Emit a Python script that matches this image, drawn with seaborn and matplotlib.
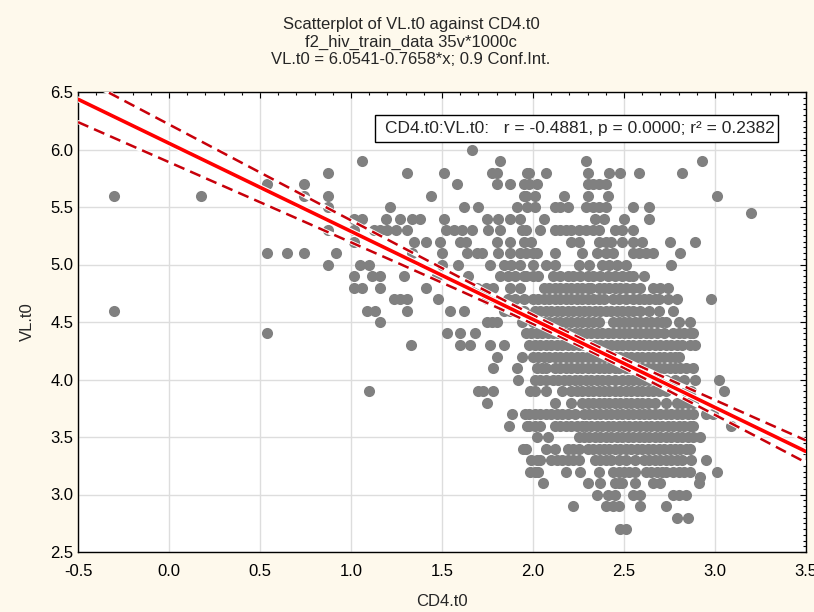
import numpy as np
import pandas as pd
import matplotlib
matplotlib.use("Agg")
import matplotlib.pyplot as plt
import matplotlib.patheffects as pe
from matplotlib.patches import Rectangle
import seaborn as sns

# ---- data: CD4.t0 values grouped by VL.t0 level ----
upper_rows = {
    6.0: [1.665],
    5.9: [1.06, 1.82, 2.29, 2.93],
    5.8: [0.875, 1.31, 1.51, 1.775, 1.80, 1.965, 1.98, 2.07, 2.30, 2.42, 2.48, 2.58, 2.82],
    5.7: [0.54, 0.74, 1.58, 1.80, 1.875, 1.95, 1.98, 2.02, 2.30, 2.33, 2.36, 2.40],
    5.6: [-0.30, 0.175, 0.74, 0.875, 1.44, 1.95, 1.96, 2.01, 2.17, 2.30, 2.41, 3.01],
    5.5: [0.875, 1.215, 1.62, 1.70, 1.91, 1.965, 2.01, 2.12, 2.15, 2.19, 2.29, 2.33,
          2.36, 2.40, 2.55, 2.64],
    5.45: [3.20],
    5.4: [1.015, 1.06, 1.19, 1.27, 1.335, 1.38, 1.51, 1.75, 1.81, 1.875, 1.93, 2.06,
          2.34, 2.39, 2.50, 2.64],
    5.3: [0.875, 1.015, 1.125, 1.16, 1.20, 1.245, 1.31, 1.52, 1.565, 1.61, 1.665, 1.755,
          1.82, 1.94, 1.96, 2.04, 2.12, 2.15, 2.18, 2.21, 2.25, 2.29, 2.33, 2.36, 2.45,
          2.49, 2.55],
    5.2: [1.015, 1.345, 1.41, 1.49, 1.60, 1.63, 1.80, 1.875, 1.95, 1.99, 2.21, 2.25,
          2.36, 2.40, 2.43, 2.49, 2.55, 2.60, 2.75, 2.89],
    5.1: [0.54, 0.65, 0.74, 0.92, 1.335, 1.50, 1.64, 1.69, 1.72, 1.81, 1.875, 1.93,
          1.96, 2.00, 2.02, 2.12, 2.27, 2.35, 2.40, 2.44, 2.55, 2.58, 2.62, 2.66, 2.81],
    5.0: [0.875, 1.05, 1.10, 1.50, 1.59, 1.765, 1.84, 1.88, 1.93, 2.00, 2.07, 2.12,
          2.25, 2.31, 2.38, 2.42, 2.46, 2.51, 2.76],
}

middle_rows = {
    4.9: [1.015, 1.115, 1.16, 1.29, 1.47, 1.645, 1.82, 1.86, 1.90, 1.95, 1.96, 2.00,
          2.03, 2.11, 2.15, 2.19, 2.22, 2.26, 2.30, 2.33, 2.37, 2.41, 2.45, 2.49, 2.53,
          2.55, 2.61],
    4.8: [1.015, 1.06, 1.16, 1.41, 1.69, 1.74, 1.78, 1.875, 1.93, 2.06, 2.09, 2.12,
          2.15, 2.18, 2.21, 2.24, 2.27, 2.30, 2.32, 2.36, 2.39, 2.42, 2.45, 2.48, 2.51,
          2.55, 2.59, 2.66, 2.70, 2.74],
    4.7: [1.235, 1.27, 1.31, 1.48, 1.75, 1.78, 1.86, 1.90, 1.95, 2.00, 2.03, 2.06,
          2.09, 2.12, 2.15, 2.18, 2.21, 2.24, 2.27, 2.30, 2.33, 2.36, 2.39, 2.44, 2.47,
          2.51, 2.55, 2.58, 2.61, 2.64, 2.67, 2.69, 2.74, 2.79, 2.98],
    4.6: [-0.30, 1.09, 1.13, 1.31, 1.545, 1.62, 1.84, 1.875, 1.95, 2.01, 2.04, 2.07,
          2.10, 2.13, 2.16, 2.19, 2.22, 2.25, 2.28, 2.31, 2.34, 2.37, 2.40, 2.43, 2.46,
          2.49, 2.52, 2.55, 2.59, 2.64, 2.69, 2.77],
    4.5: [1.16, 1.75, 1.775, 1.80, 1.94, 2.00, 2.03, 2.06, 2.09, 2.12, 2.15, 2.18,
          2.21, 2.24, 2.27, 2.30, 2.33, 2.36, 2.44, 2.47, 2.50, 2.53, 2.56, 2.59, 2.62,
          2.65, 2.68, 2.71, 2.73, 2.80, 2.86],
    4.4: [0.54, 1.53, 1.60, 1.68, 1.96, 1.99, 2.02, 2.05, 2.08, 2.11, 2.14, 2.17,
          2.20, 2.23, 2.26, 2.29, 2.32, 2.35, 2.38, 2.41, 2.44, 2.47, 2.50, 2.53, 2.56,
          2.59, 2.62, 2.65, 2.68, 2.72, 2.77, 2.80, 2.83, 2.86, 2.88],
    4.3: [1.33, 1.60, 1.655, 1.765, 1.84, 1.98, 2.01, 2.04, 2.07, 2.10, 2.13, 2.16,
          2.19, 2.22, 2.25, 2.28, 2.31, 2.34, 2.37, 2.40, 2.43, 2.46, 2.49, 2.52, 2.55,
          2.58, 2.61, 2.64, 2.67, 2.70, 2.73, 2.76, 2.79, 2.82, 2.86, 2.89],
    4.2: [1.80, 1.94, 2.00, 2.03, 2.06, 2.09, 2.12, 2.15, 2.18, 2.21, 2.24, 2.27,
          2.30, 2.33, 2.36, 2.39, 2.42, 2.45, 2.48, 2.51, 2.54, 2.57, 2.60, 2.63, 2.66,
          2.69, 2.72, 2.75, 2.78, 2.80],
    4.1: [1.78, 1.91, 2.02, 2.05, 2.07, 2.12, 2.15, 2.18, 2.21, 2.24, 2.27, 2.30,
          2.33, 2.36, 2.39, 2.42, 2.45, 2.47, 2.51, 2.54, 2.57, 2.60, 2.63, 2.66, 2.69,
          2.72, 2.75, 2.78, 2.81, 2.84, 2.88],
    4.0: [1.92, 2.01, 2.04, 2.07, 2.11, 2.14, 2.17, 2.20, 2.23, 2.26, 2.29, 2.32,
          2.35, 2.38, 2.41, 2.45, 2.49, 2.52, 2.55, 2.58, 2.61, 2.64, 2.67, 2.70, 2.73,
          2.78, 2.83, 2.89, 3.02],
}

lower_rows = {
    3.9: [1.10, 1.70, 1.725, 1.78, 1.985, 2.01, 2.07, 2.16, 2.21, 2.24, 2.27, 2.30,
          2.33, 2.36, 2.39, 2.42, 2.45, 2.48, 2.51, 2.54, 2.57, 2.60, 2.63, 2.66, 2.69,
          2.73, 2.84, 2.87, 3.05],
    3.8: [1.75, 2.12, 2.21, 2.27, 2.30, 2.33, 2.36, 2.39, 2.42, 2.45, 2.48, 2.51,
          2.54, 2.57, 2.60, 2.63, 2.67, 2.73, 2.79, 2.82, 2.85, 2.88],
    3.7: [1.885, 1.955, 1.98, 2.01, 2.04, 2.07, 2.10, 2.13, 2.16, 2.19, 2.23, 2.28,
          2.31, 2.34, 2.37, 2.40, 2.43, 2.46, 2.49, 2.52, 2.55, 2.58, 2.61, 2.64, 2.67,
          2.70, 2.73, 2.76, 2.79, 2.82, 2.85, 2.88, 2.95, 2.99],
    3.6: [1.87, 1.965, 1.98, 2.01, 2.04, 2.12, 2.15, 2.18, 2.21, 2.24, 2.27, 2.29,
          2.32, 2.35, 2.38, 2.41, 2.44, 2.47, 2.50, 2.53, 2.56, 2.59, 2.62, 2.65, 2.68,
          2.71, 2.74, 2.77, 2.80, 2.83, 2.86, 2.88, 3.09],
    3.5: [2.02, 2.08, 2.25, 2.28, 2.31, 2.34, 2.37, 2.40, 2.43, 2.46, 2.49, 2.52,
          2.55, 2.58, 2.61, 2.64, 2.67, 2.70, 2.73, 2.76, 2.79, 2.82, 2.85, 2.88, 2.92],
    3.4: [1.945, 1.96, 2.07, 2.12, 2.19, 2.22, 2.25, 2.30, 2.33, 2.36, 2.39, 2.42,
          2.45, 2.48, 2.51, 2.54, 2.57, 2.60, 2.63, 2.66, 2.69, 2.72, 2.75, 2.78, 2.81,
          2.84, 2.86],
    3.3: [1.99, 2.02, 2.04, 2.10, 2.13, 2.16, 2.19, 2.22, 2.25, 2.34, 2.37, 2.40,
          2.43, 2.47, 2.51, 2.56, 2.61, 2.64, 2.67, 2.70, 2.73, 2.76, 2.79, 2.82, 2.87,
          2.95],
    3.2: [1.985, 2.01, 2.03, 2.18, 2.26, 2.36, 2.44, 2.47, 2.50, 2.53, 2.56, 2.62,
          2.65, 2.68, 2.71, 2.73, 2.77, 2.80, 2.83, 2.86, 3.01],
    3.15: [2.92],
    3.1: [2.055, 2.30, 2.37, 2.45, 2.47, 2.49, 2.56, 2.66, 2.70, 2.91],
    3.0: [2.35, 2.41, 2.45, 2.55, 2.59, 2.77, 2.80, 2.84],
    2.9: [2.22, 2.40, 2.44, 2.47, 2.59, 2.73],
    2.8: [2.79, 2.85],
    2.7: [2.48, 2.51],
}

# regression summary printed on the chart
intercept = 6.0541
slope = -0.7658
r_value = -0.4881
r_squared = 0.2382
n_cases = 1000
t_crit = 1.6464  # two-sided 0.90 level, df = 998

x_ticks = [-0.5, 0.0, 0.5, 1.0, 1.5, 2.0, 2.5, 3.0, 3.5]
y_ticks = [2.5, 3.0, 3.5, 4.0, 4.5, 5.0, 5.5, 6.0, 6.5]

# ---- build a long table ----
records = []
for rows in (upper_rows, middle_rows, lower_rows):
    for vl, cd4_list in rows.items():
        for cd4 in cd4_list:
            records.append((cd4, vl))
df = pd.DataFrame(records, columns=["CD4.t0", "VL.t0"])

# fitted line and 90% confidence band for the mean
x_mean = df["CD4.t0"].mean()
x_sd = df["CD4.t0"].std()
resid_sd = abs(slope) / abs(r_value) * x_sd * np.sqrt(1 - r_squared) * np.sqrt((n_cases - 1) / (n_cases - 2))
xs = np.linspace(x_ticks[0], x_ticks[-1], 200)
fit = intercept + slope * xs
half = t_crit * resid_sd * np.sqrt(1 / n_cases + (xs - x_mean) ** 2 / ((n_cases - 1) * x_sd ** 2))
line_df = pd.DataFrame({"x": xs, "fit": fit, "lo": fit - half, "hi": fit + half})

# ---- style ----
sns.set_theme(style="white")
plt.rcParams["font.family"] = ["Liberation Sans", "DejaVu Sans"]
plt.rcParams["font.size"] = 12

W, H = 814, 612
fig = plt.figure(figsize=(W / 100, H / 100), dpi=100)
fig.patch.set_facecolor("#FEF9EC")
ax = fig.add_axes([78 / W, 1 - 552 / H, (806 - 78) / W, (552 - 92) / H])
ax.set_facecolor("white")

sns.scatterplot(data=df, x="CD4.t0", y="VL.t0", ax=ax, color="#808080",
                s=64, linewidth=0, alpha=1, zorder=3, legend=False)

halo = [pe.Stroke(linewidth=4.2, foreground="white"), pe.Normal()]
for col in ("hi", "lo"):
    sns.lineplot(data=line_df, x="x", y=col, ax=ax, color="white", linewidth=3.0,
                 zorder=4, legend=False)
    sns.lineplot(data=line_df, x="x", y=col, ax=ax, color="#C8000A", linewidth=1.8,
                 zorder=5, legend=False, dashes=False)
    ax.lines[-1].set_dashes([4.5, 2.5])
sns.lineplot(data=line_df, x="x", y="fit", ax=ax, color="#FF0000", linewidth=2.6,
             zorder=6, legend=False)
ax.lines[-1].set_path_effects(halo)

ax.set_xlim(x_ticks[0], x_ticks[-1])
ax.set_ylim(y_ticks[0], y_ticks[-1])
ax.set_xticks(x_ticks)
ax.set_yticks(y_ticks)
ax.set_xticklabels([f"{v:.1f}" for v in x_ticks])
ax.set_yticklabels([f"{v:.1f}" for v in y_ticks])
ax.xaxis.set_minor_locator(matplotlib.ticker.MultipleLocator(0.1))
ax.yaxis.set_minor_locator(matplotlib.ticker.MultipleLocator(0.05))
ax.tick_params(which="both", direction="in", top=True, right=True, color="black",
               width=0.8, labelsize=12, labelcolor="black")
ax.tick_params(which="major", length=4)
ax.tick_params(which="minor", length=2.5)
ax.tick_params(axis="x", which="major", pad=9)
ax.tick_params(axis="y", which="major", pad=3.5)
ax.grid(True, which="major", color="#DDDDDD", linewidth=1.0, zorder=0)
ax.set_axisbelow(True)
for sp in ax.spines.values():
    sp.set_color("black")
    sp.set_linewidth(1.0)
ax.set_xlabel("")
ax.set_ylabel("")

# titles and axis names
fig.text(0.505, 1 - 25 / H, "Scatterplot of VL.t0 against CD4.t0", ha="center", va="center", fontsize=12)
fig.text(0.505, 1 - 42 / H, "f2_hiv_train_data 35v*1000c", ha="center", va="center", fontsize=12)
fig.text(0.505, 1 - 59 / H, "VL.t0 = 6.0541-0.7658*x; 0.9 Conf.Int.", ha="center", va="center", fontsize=12)
fig.text(442 / W, 1 - 601 / H, "CD4.t0", ha="center", va="center", fontsize=12)
fig.text(27 / W, 1 - 322 / H, "VL.t0", ha="center", va="center", rotation=90, fontsize=12)

# correlation box
bx0, bx1, by0, by1 = 375, 778, 115, 142
ax.add_patch(Rectangle(((bx0 - 78) / 728, (552 - by1) / 460), (bx1 - bx0) / 728, (by1 - by0) / 460,
                       transform=ax.transAxes, facecolor="white", edgecolor="black",
                       linewidth=1.0, zorder=8))
ax.text((385 - 78) / 728, (552 - (by0 + by1) / 2) / 460,
        f"CD4.t0:VL.t0:   r = {r_value:.4f}, p = 0.0000; r\u00b2 = {r_squared:.4f}",
        transform=ax.transAxes, ha="left", va="center", fontsize=12.5, zorder=9)

fig.savefig("out.png", dpi=100, facecolor=fig.get_facecolor())
